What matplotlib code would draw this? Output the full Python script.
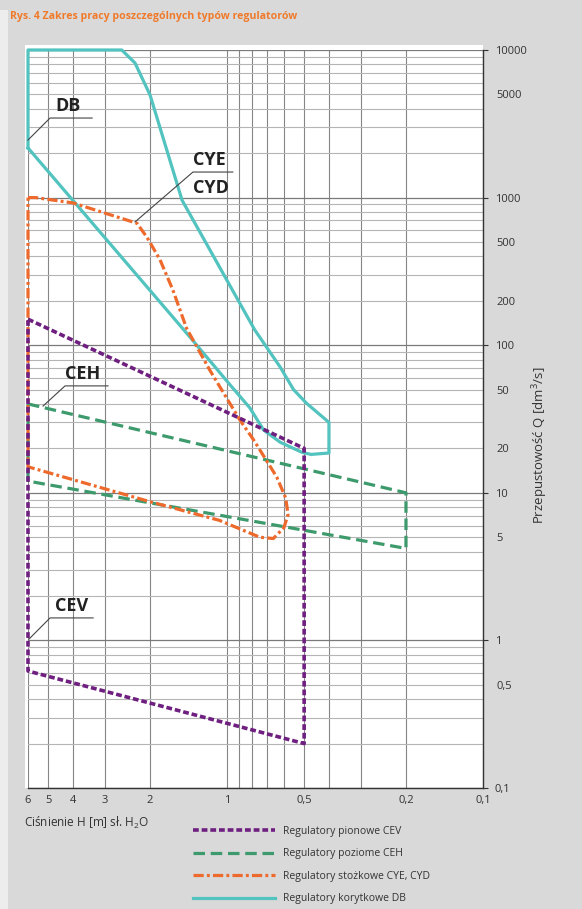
import matplotlib.pyplot as plt
from matplotlib.patches import Rectangle
from matplotlib.ticker import FixedLocator, FixedFormatter, FuncFormatter

plt.rcParams['font.family'] = ['Open Sans', 'DejaVu Sans']
plt.rcParams['mathtext.default'] = 'regular'

# --- data: H [m] vs Q [dm3/s] ---
cev_h = [6, 0.5, 0.5, 6, 6]
cev_q = [150, 20, 0.2, 0.62, 150]

ceh_h = [6, 0.2, 0.2, 6, 6]
ceh_q = [40, 10, 4.2, 12, 40]

cye_h = [6, 5.6, 4.0, 2.63, 2.25, 2.06, 1.83, 1.63, 1.44, 1.17, 0.89, 0.79,
         0.64, 0.59, 0.578, 0.60, 0.66, 0.745, 1.07, 2.0, 6, 6]
cye_q = [1000, 1000, 920, 730, 670, 540, 380, 237, 130, 68, 31, 23,
         12.8, 9.2, 7.1, 5.8, 4.9, 5.0, 6.5, 8.7, 15, 1000]

db_h = [6, 6, 2.58, 2.29, 2.0, 1.5, 0.78, 0.62, 0.55, 0.49, 0.40, 0.40,
        0.47, 0.51, 0.62, 0.72, 0.815, 0.975, 1.4, 6]
db_q = [2170, 10000, 10000, 8160, 4950, 960, 127, 71, 50, 40.5, 30, 18.6,
        18.2, 18.8, 22, 26.6, 37.6, 54, 114, 2170]

labels = ['Regulatory pionowe CEV', 'Regulatory poziome CEH',
          'Regulatory stożkowe CYE, CYD', 'Regulatory korytkowe DB']

x_grid = [0.9, 0.8, 0.7, 0.6, 0.4, 0.3]
x_ticks = [6, 5, 4, 3, 2, 1, 0.5, 0.2, 0.1]
x_ticklabels = ['6', '5', '4', '3', '2', '1', '0,5', '0,2', '0,1']

y_major = [0.1, 1, 10, 100, 1000, 10000]
y_major_labels = ['0,1', '1', '10', '100', '1000', '10000']
y_minor = [m * 10.0 ** e for e in range(-1, 4) for m in range(2, 10)]
y_minor_labels = {0.5: '0,5', 5: '5', 20: '20', 50: '50', 200: '200',
                  500: '500', 5000: '5000'}

# callout labels: text, text anchor, leader line (H, Q)
callouts = [
    ('DB', (4.71, 4180), [(6, 2455), (4.92, 3460), (3.37, 3460)]),
    ('CYE', (1.36, 1800), [(2.29, 684), (1.36, 1490), (0.95, 1490)]),
    ('CYD', (1.36, 1161), []),
    ('CEH', (4.30, 63.8), [(5.24, 38.7), (4.30, 53), (2.92, 53)]),
    ('CEV', (4.71, 1.71), [(5.95, 1.02), (4.92, 1.42), (3.34, 1.42)]),
]

purple = '#6e1f7f'
green = '#3d9a6c'
orange = '#ee6a2c'
cyan = '#52c3bf'
text_c = '#333333'

W, H = 582, 909


def fy(y):
    return 1 - y / H


fig = plt.figure(figsize=(W / 100, H / 100), dpi=100, facecolor='#d9d9d9')
fig.add_artist(Rectangle((0, 0), 8 / W, fy(10), transform=fig.transFigure,
                         facecolor='#ededed', edgecolor='none', zorder=-2))
fig.add_artist(Rectangle((25 / W, fy(788)), (483 - 25) / W, (788 - 45) / H,
                         transform=fig.transFigure, facecolor='white',
                         edgecolor='none', zorder=-1))

ax = fig.add_axes([28 / W, fy(788), (483 - 28) / W, (788 - 50) / H])
ax.set_facecolor('none')
ax.set_xscale('log')
ax.set_yscale('log')
ax.set_xlim(6, 0.1)
ax.set_ylim(0.1, 10000)

# grid
ax.xaxis.set_major_locator(FixedLocator(x_ticks))
ax.xaxis.set_major_formatter(FixedFormatter(x_ticklabels))
ax.xaxis.set_minor_locator(FixedLocator(x_grid))
ax.xaxis.set_minor_formatter(FuncFormatter(lambda v, p: ''))
ax.yaxis.set_major_locator(FixedLocator(y_major))
ax.yaxis.set_major_formatter(FixedFormatter(y_major_labels))
ax.yaxis.set_minor_locator(FixedLocator(y_minor))
ax.yaxis.set_minor_formatter(FuncFormatter(
    lambda v, p: next((s for k, s in y_minor_labels.items()
                       if abs(v - k) < 1e-6 * k), '')))
ax.grid(which='both', axis='x', color='#858585', lw=0.8)
ax.grid(which='minor', axis='y', color='#b5b5b5', lw=0.8)
ax.grid(which='major', axis='y', color='#7a7a7a', lw=0.9)
ax.set_axisbelow(True)

ax.yaxis.tick_right()
ax.tick_params(axis='x', which='both', length=0, pad=5, labelsize=8,
               labelcolor=text_c)
ax.tick_params(axis='y', which='major', length=3.5, width=0.8, color='#333333',
               pad=5, labelsize=8, labelcolor=text_c)
ax.tick_params(axis='y', which='minor', length=0, pad=9.5, labelsize=8,
               labelcolor=text_c)
for side in ['left', 'top']:
    ax.spines[side].set_visible(False)
for side in ['right', 'bottom']:
    ax.spines[side].set_color('#333333')
    ax.spines[side].set_linewidth(1.0)

# series
ax.plot(ceh_h, ceh_q, color=green, lw=2.3, dashes=(3.6, 1.8),
        label=labels[1], clip_on=False, zorder=3)
ax.plot(cye_h, cye_q, color=orange, lw=2.3, dashes=(3.2, 1.0, 0.9, 1.0),
        label=labels[2], clip_on=False, zorder=4)
ax.plot(db_h, db_q, color=cyan, lw=2.3, label=labels[3], clip_on=False,
        zorder=3)
ax.plot(cev_h, cev_q, color=purple, lw=2.6, dashes=(1.6, 0.8),
        label=labels[0], clip_on=False, zorder=5)

# callouts
for txt, pos, leader in callouts:
    ax.text(pos[0], pos[1], txt, fontsize=13, fontweight='bold',
            color='#222222', ha='left', va='center')
    if leader:
        ax.plot([p[0] for p in leader], [p[1] for p in leader],
                color='#444444', lw=0.8, zorder=6, clip_on=False)

fig.text(10 / W, fy(16), 'Rys. 4 Zakres pracy poszczególnych typów regulatorów',
         color='#f07a2a', fontsize=7.6, fontweight='bold', va='center')
fig.text(24 / W, fy(823), 'Ciśnienie H [m] sł. H$_2$O', color=text_c,
         fontsize=8.5, va='center')
fig.text(540 / W, fy(445), 'Przepustowość Q [dm$^3$/s]', color=text_c,
         fontsize=9.5, rotation=90, ha='center', va='center')

handles, labs = ax.get_legend_handles_labels()
order = [labs.index(l) for l in labels]
ax.legend([handles[i] for i in order], [labs[i] for i in order],
          loc='upper left', bbox_to_anchor=(193 / W, fy(826)),
          bbox_transform=fig.transFigure, frameon=False, borderpad=0,
          borderaxespad=0, handlelength=7.9, handletextpad=0.75,
          labelspacing=1.1, fontsize=7.5, labelcolor=text_c)

fig.savefig('out.png', dpi=100, facecolor=fig.get_facecolor())
